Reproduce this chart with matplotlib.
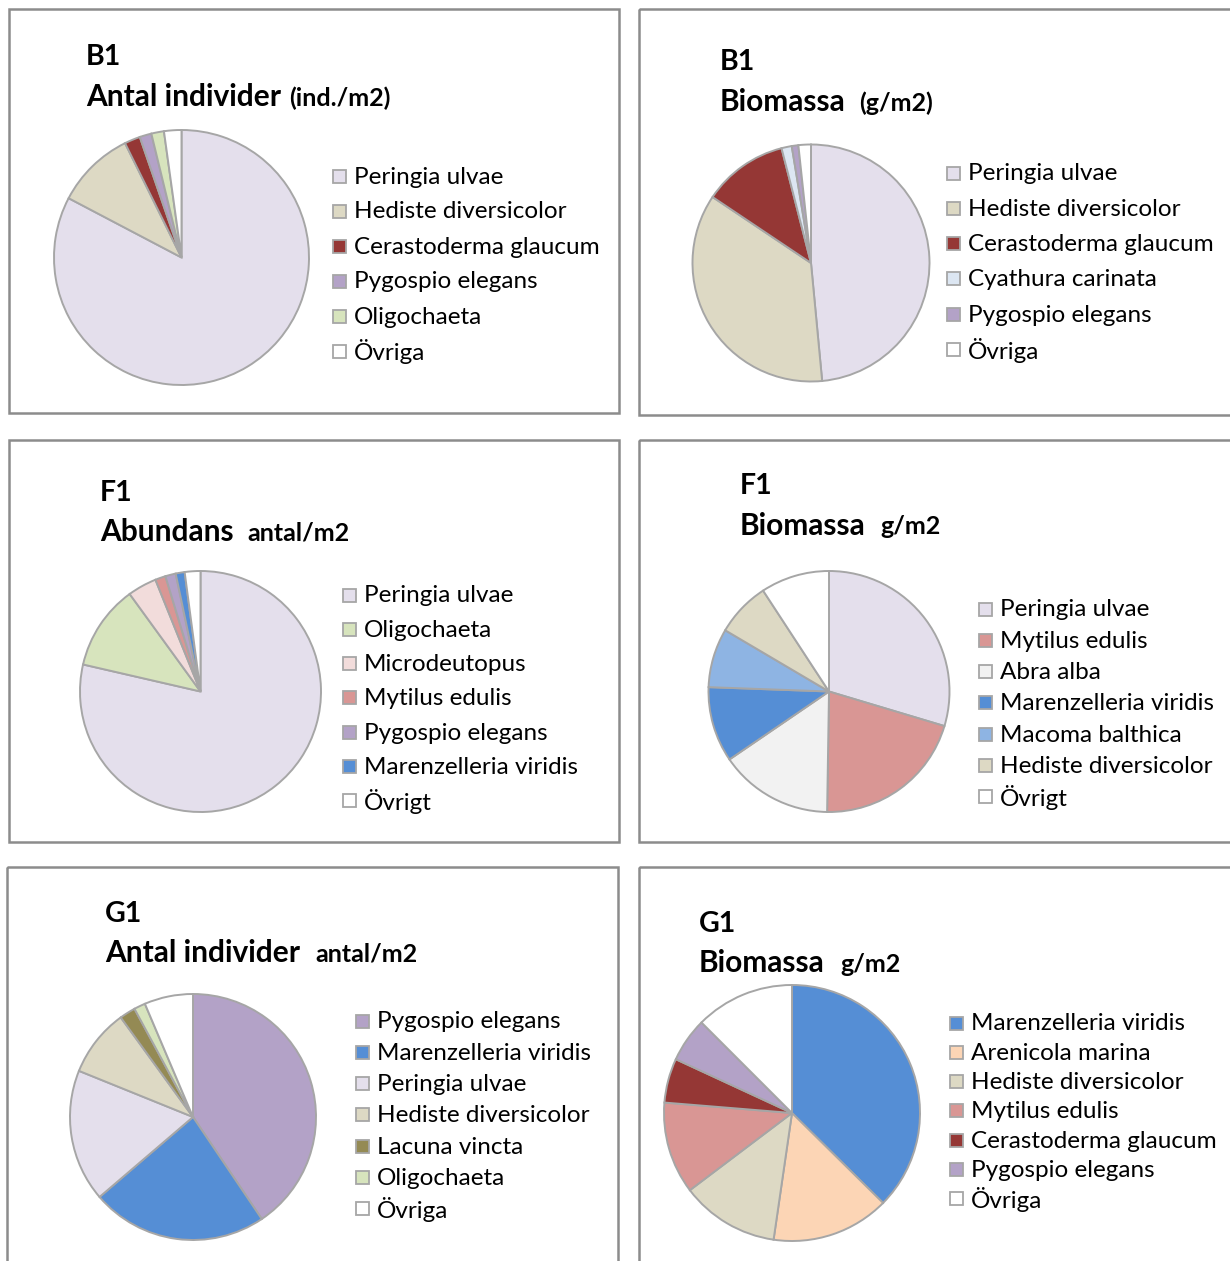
import matplotlib
matplotlib.use("Agg")
import matplotlib.pyplot as plt
from matplotlib.patches import Rectangle

plt.rcParams['font.family'] = ['Lato', 'DejaVu Sans']

W, H = 1230, 1261
DPI = 100

# ---------------- data ----------------
b1_antal_labels = ["Peringia ulvae", "Hediste diversicolor", "Cerastoderma glaucum",
                   "Pygospio elegans", "Oligochaeta", "Övriga"]
b1_antal_values = [82.7, 10.0, 2.0, 1.5, 1.6, 2.2]

b1_bio_labels = ["Peringia ulvae", "Hediste diversicolor", "Cerastoderma glaucum",
                 "Cyathura carinata", "Pygospio elegans", "Övriga"]
b1_bio_values = [48.5, 35.9, 11.6, 1.4, 0.9, 1.7]

f1_abund_labels = ["Peringia ulvae", "Oligochaeta", "Microdeutopus", "Mytilus edulis",
                   "Pygospio elegans", "Marenzelleria viridis", "Övrigt"]
f1_abund_values = [78.6, 11.4, 3.9, 1.4, 1.4, 1.2, 2.1]

f1_bio_labels = ["Peringia ulvae", "Mytilus edulis", "Abra alba", "Marenzelleria viridis",
                 "Macoma balthica", "Hediste diversicolor", "Övrigt"]
f1_bio_values = [29.6, 20.6, 15.2, 10.1, 7.9, 7.3, 9.2]

g1_antal_labels = ["Pygospio elegans", "Marenzelleria viridis", "Peringia ulvae",
                   "Hediste diversicolor", "Lacuna vincta", "Oligochaeta", "Övriga"]
g1_antal_values = [40.6, 23.2, 17.4, 8.9, 2.1, 1.5, 6.4]

g1_bio_labels = ["Marenzelleria viridis", "Arenicola marina", "Hediste diversicolor",
                 "Mytilus edulis", "Cerastoderma glaucum", "Pygospio elegans", "Övriga"]
g1_bio_values = [37.4, 14.9, 12.4, 11.6, 5.6, 5.6, 12.5]

species_colors = {
    "Peringia ulvae": "#E4DFEC",
    "Hediste diversicolor": "#DDD9C4",
    "Cerastoderma glaucum": "#953735",
    "Pygospio elegans": "#B3A2C7",
    "Oligochaeta": "#D7E4BD",
    "Övriga": "#FFFFFF",
    "Övrigt": "#FFFFFF",
    "Cyathura carinata": "#DCE6F2",
    "Microdeutopus": "#F2DCDB",
    "Mytilus edulis": "#D99694",
    "Marenzelleria viridis": "#558ED5",
    "Abra alba": "#F2F2F2",
    "Macoma balthica": "#8EB4E3",
    "Lacuna vincta": "#948A54",
    "Arenicola marina": "#FCD5B5",
}

panels = [
    dict(station="B1", title="Antal individer", unit="(ind./m2)",
         labels=b1_antal_labels, values=b1_antal_values,
         box=(9, 9, 619, 413), st_xy=(86, 57), ti_y=97, unit_x=289,
         pie=(181.5, 257.5, 127.5), leg_x=333, leg_y=176, leg_dy=35.0),
    dict(station="B1", title="Biomassa", unit="(g/m2)",
         labels=b1_bio_labels, values=b1_bio_values,
         box=(639, 9, 1240, 415), st_xy=(720, 62), ti_y=102, unit_x=859,
         pie=(811, 263, 118.5), leg_x=947, leg_y=173, leg_dy=35.3),
    dict(station="F1", title="Abundans", unit="antal/m2",
         labels=f1_abund_labels, values=f1_abund_values,
         box=(9, 440, 619, 842), st_xy=(100, 493), ti_y=532, unit_x=247,
         pie=(200.5, 691.5, 120.5), leg_x=343, leg_y=595, leg_dy=34.3),
    dict(station="F1", title="Biomassa", unit="g/m2",
         labels=f1_bio_labels, values=f1_bio_values,
         box=(639, 440, 1240, 842), st_xy=(740, 486), ti_y=526, unit_x=880,
         pie=(829, 691.5, 120.5), leg_x=979, leg_y=609, leg_dy=31.3),
    dict(station="G1", title="Antal individer", unit="antal/m2",
         labels=g1_antal_labels, values=g1_antal_values,
         box=(7, 867, 618, 1270), st_xy=(105, 914), ti_y=953, unit_x=315,
         pie=(193, 1117, 123), leg_x=356, leg_y=1021, leg_dy=31.3),
    dict(station="G1", title="Biomassa", unit="g/m2",
         labels=g1_bio_labels, values=g1_bio_values,
         box=(639, 867, 1240, 1270), st_xy=(699, 924), ti_y=963, unit_x=840,
         pie=(792, 1113, 128), leg_x=950, leg_y=1023, leg_dy=29.3),
]

fig = plt.figure(figsize=(W / DPI, H / DPI), dpi=DPI)
bg = fig.add_axes([0, 0, 1, 1])
bg.set_xlim(0, W)
bg.set_ylim(H, 0)
bg.axis("off")

for p in panels:
    x0, y0, x1, y1 = p["box"]
    bg.add_patch(Rectangle((x0, y0), x1 - x0, y1 - y0, fill=False,
                           edgecolor="#8C8C8C", linewidth=1.8, zorder=1))
    sx, sy = p["st_xy"]
    bg.text(sx, sy, p["station"], fontsize=20.5, fontweight="bold",
            ha="left", va="center", color="black")
    bg.text(sx, p["ti_y"], p["title"], fontsize=21.5, fontweight="bold",
            ha="left", va="center", color="black")
    bg.text(p["unit_x"], p["ti_y"] + 1, p["unit"], fontsize=18, fontweight="bold",
            ha="left", va="center", color="black")

    cx, cy, r = p["pie"]
    pad = 1.02
    ax = fig.add_axes([(cx - r * pad) / W, 1 - (cy + r * pad) / H,
                       2 * r * pad / W, 2 * r * pad / H])
    cols = [species_colors[l] for l in p["labels"]]
    ax.pie(p["values"], colors=cols, startangle=90, counterclock=False,
           radius=1.0, wedgeprops=dict(edgecolor="#A6A6A6", linewidth=1.4))
    ax.set_xlim(-pad, pad)
    ax.set_ylim(-pad, pad)
    ax.set_aspect("equal")
    ax.axis("off")

    lx, ly, dy = p["leg_x"], p["leg_y"], p["leg_dy"]
    for i, (lab, col) in enumerate(zip(p["labels"], cols)):
        yy = ly + i * dy
        bg.add_patch(Rectangle((lx, yy - 6.5), 13, 13, facecolor=col,
                               edgecolor="#A6A6A6", linewidth=1.3, zorder=2))
        bg.text(lx + 21, yy + 1, lab, fontsize=17.5, ha="left", va="center",
                color="black")

fig.savefig("out.png", dpi=DPI)
